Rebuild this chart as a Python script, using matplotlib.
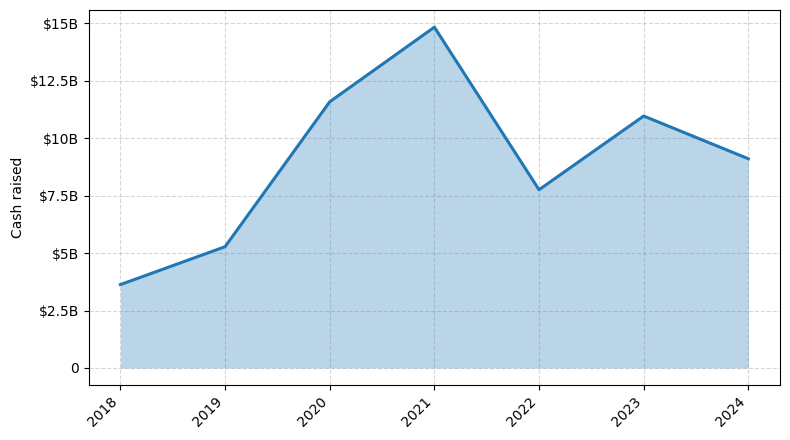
import matplotlib
matplotlib.use("Agg")
import matplotlib.pyplot as plt
from matplotlib.ticker import FuncFormatter

years = ["2018", "2019", "2020", "2021", "2022", "2023", "2024"]
cash_b = [3.63, 5.28, 11.59, 14.84, 7.76, 10.97, 9.11]
ytick_vals = [0, 2.5, 5, 7.5, 10, 12.5, 15]

def fmt(v, pos):
    if v == 0:
        return "0"
    s = f"{v:g}"
    return f"${s}B"

fig, ax = plt.subplots(figsize=(7.9, 4.4), dpi=100)
x = list(range(len(years)))
ax.fill_between(x, cash_b, color="#1f77b4", alpha=0.3, linewidth=0)
ax.plot(x, cash_b, color="#1f77b4", linewidth=2.2)
ax.set_xticks(x)
ax.set_xticklabels(years, rotation=45, ha="right")
ax.set_yticks(ytick_vals)
ax.yaxis.set_major_formatter(FuncFormatter(fmt))
ax.set_ylabel("Cash raised")
ax.grid(True, linestyle="--", alpha=0.5)
ax.set_axisbelow(True)
fig.subplots_adjust(left=0.1127, right=0.987, top=0.977, bottom=0.125)
fig.savefig("out.png", dpi=100)
